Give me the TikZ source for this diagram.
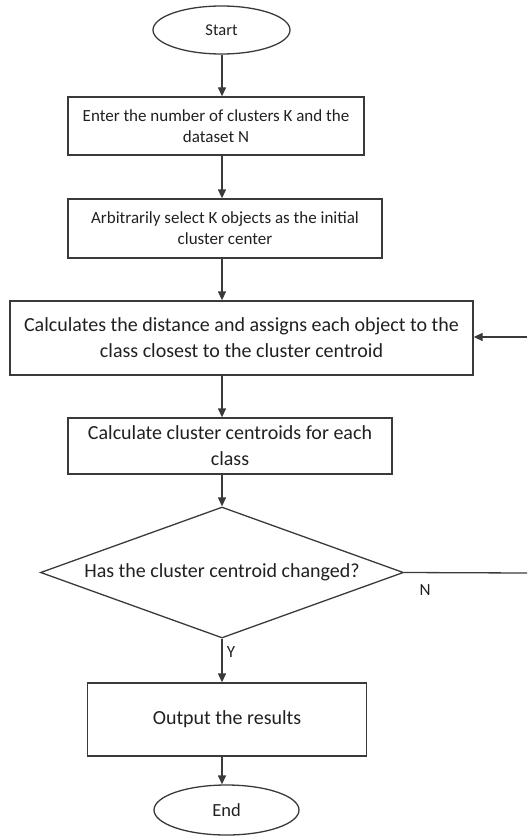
\documentclass[tikz,border=0pt]{standalone}
\usepackage{fontspec}
\setmainfont{Carlito}
\usetikzlibrary{shapes.geometric,arrows.meta}
\definecolor{lncol}{HTML}{3A3A3A}
\definecolor{tx}{HTML}{202020}
\tikzset{
  every node/.style={text=tx},
  procbox/.style={draw=lncol,line width=1.3pt,rectangle,align=center,inner sep=0pt},
  term/.style={draw=lncol,line width=1.3pt,ellipse,inner sep=0pt},
  decis/.style={draw=lncol,line width=1.3pt,diamond,inner sep=0pt,aspect=2.77},
  arr/.style={draw=lncol,line width=1.3pt,-{Triangle[length=9pt,width=8pt]}},
  plainln/.style={draw=lncol,line width=1.3pt},
  smalltxt/.style={font=\fontsize{17}{21}\selectfont},
  termtxt/.style={font=\fontsize{16.5}{20}\selectfont},
  bigtxt/.style={font=\fontsize{20}{26}\selectfont}
}
\begin{document}
\begin{tikzpicture}[x=1pt,y=-1pt]
\useasboundingbox (0,0) rectangle (527,837);
\node[term,minimum width=137pt,minimum height=48pt,termtxt] (start) at (221.5,30) {Start};
\node[procbox,minimum width=296pt,minimum height=58pt,smalltxt] (b1) at (216,126) {Enter the number of clusters K and the\\dataset N};
\node[procbox,minimum width=314pt,minimum height=59pt,smalltxt] (b2) at (225,228.5) {Arbitrarily select K objects as the initial\\cluster center};
\node[procbox,minimum width=463pt,minimum height=74pt,bigtxt] (b3) at (241.5,338) {Calculates the distance and assigns each object to the\\class closest to the cluster centroid};
\node[procbox,minimum width=324pt,minimum height=56pt,bigtxt] (b4) at (230,446) {Calculate cluster centroids for each\\class};
\node[decis,minimum width=363pt,minimum height=131pt,bigtxt] (dec) at (222,572.5) {Has the cluster centroid changed?};
\node[procbox,minimum width=279pt,minimum height=73pt,bigtxt] (b5) at (227,719.5) {Output the results};
\node[term,minimum width=145pt,minimum height=50pt,font=\fontsize{18.5}{22}\selectfont] (end) at (226.5,810) {End};
\coordinate (sp) at (222,0);
\coordinate (rin) at (527,337);
\coordinate (rout) at (527,573);
\draw[arr] (start.south -| sp) -- (b1.north -| sp);
\draw[arr] (b1.south -| sp) -- (b2.north -| sp);
\draw[arr] (b2.south -| sp) -- (b3.north -| sp);
\draw[arr] (b3.south -| sp) -- (b4.north -| sp);
\draw[arr] (b4.south -| sp) -- (dec.north);
\draw[arr] (dec.south) -- (b5.north -| sp) node[pos=0.3,right=1pt,smalltxt] (ylab) {Y};
\draw[arr] (b5.south -| sp) -- (end.north -| sp);
\draw[plainln] (dec.east) -- (rout) node[pos=0.17,below=8pt,smalltxt] (nlab) {N};
\draw[arr] (rin) -- (rin -| b3.east);
\end{tikzpicture}
\end{document}
